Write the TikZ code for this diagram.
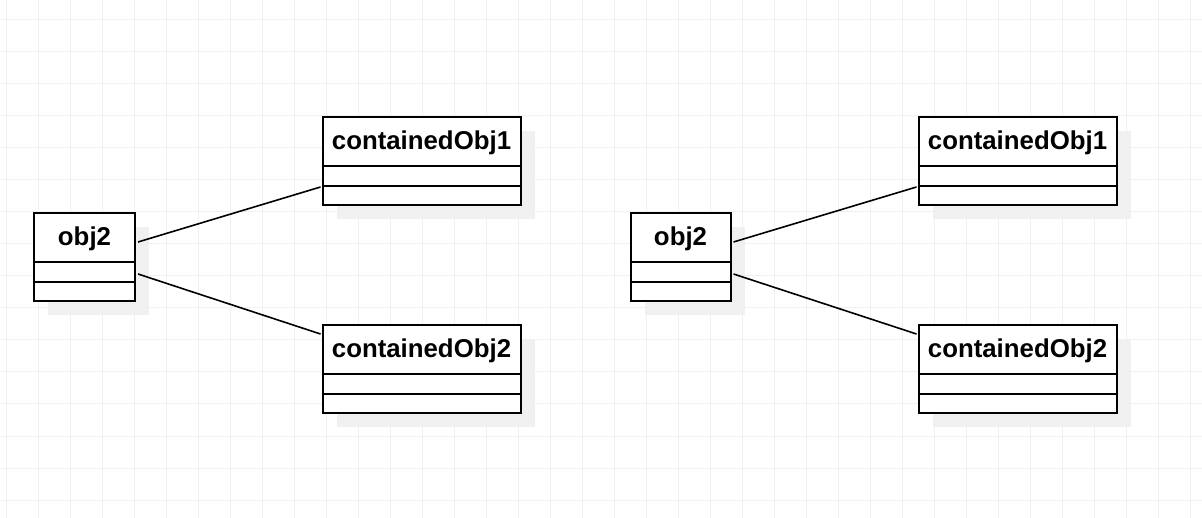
\documentclass[tikz,border=0pt]{standalone}
\usepackage{fontspec}
\setmainfont{Liberation Sans}
\usetikzlibrary{calc,shadows}
\definecolor{gridline}{HTML}{F0F0F0}
\definecolor{shadowgray}{HTML}{F0F0F0}
\tikzset{
  x=1pt, y=-1pt,
  umlbox/.style={draw=black, line width=2pt, fill=white, anchor=north west,
    inner sep=0pt, minimum height=88pt,
    general shadow={fill=shadowgray, shadow xshift=14pt, shadow yshift=-14pt}},
  umltitle/.style={font=\fontsize{25.8}{30}\selectfont\bfseries, inner sep=0pt, anchor=base},
  divider/.style={line width=2pt},
  link/.style={draw=black, line width=1.6pt},
}
% class box: name, top-left position, width, title
\newcommand{\umlclass}[4]{%
  \node[umlbox, minimum width=#3] (#1) at (#2) {};
  \node[umltitle] (#1-t) at ($(#1.north)+(0,33.5)$) {#4};
  \draw[divider] ($(#1.north west)+(0,50)$) -- ($(#1.north east)+(0,50)$);
  \draw[divider] ($(#1.north west)+(0,70)$) -- ($(#1.north east)+(0,70)$);
}
\begin{document}
\begin{tikzpicture}
\useasboundingbox (0,0) rectangle (1202,518);
\fill[white] (0,0) rectangle (1202,518);
% background grid
\foreach \gx in {6,38,...,1198} \draw[gridline, line width=1pt] (\gx,0) -- (\gx,518);
\foreach \gy in {20,52,...,518} \draw[gridline, line width=1pt] (0,\gy) -- (1202,\gy);

% left diagram
\umlclass{la}{33,212}{101pt}{obj2}
\umlclass{lb}{321.5,116}{198pt}{containedObj1}
\umlclass{lc}{321.5,324}{198pt}{containedObj2}
\coordinate (la1) at ($(la.north east)+(2,30)$);
\coordinate (la2) at ($(la.north east)+(2,62)$);
\coordinate (lb1) at ($(lb.north west)+(-1,71)$);
\coordinate (lc1) at ($(lc.north west)+(-1,10)$);
\draw[link] (la1) -- (lb1);
\draw[link] (la2) -- (lc1);

% right diagram
\umlclass{ra}{629.5,212}{100pt}{obj2}
\umlclass{rb}{917.5,116}{198pt}{containedObj1}
\umlclass{rc}{917.5,324}{198pt}{containedObj2}
\coordinate (ra1) at ($(ra.north east)+(2,30)$);
\coordinate (ra2) at ($(ra.north east)+(2,62)$);
\coordinate (rb1) at ($(rb.north west)+(-1,71)$);
\coordinate (rc1) at ($(rc.north west)+(-1,10)$);
\draw[link] (ra1) -- (rb1);
\draw[link] (ra2) -- (rc1);
\end{tikzpicture}
\end{document}
